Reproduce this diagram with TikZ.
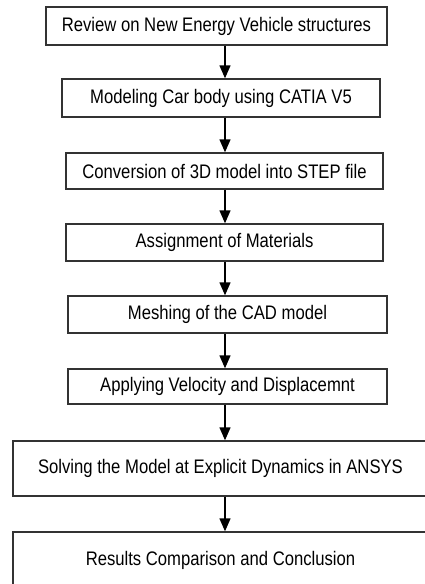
\documentclass[tikz,border=0pt]{standalone}
\usepackage{fontspec}
\setmainfont[FakeStretch=0.85]{Liberation Sans}
\usetikzlibrary{arrows.meta}
\begin{document}
\begin{tikzpicture}[x=1pt, y=-1pt,
    stepbox/.style = {draw=black!80, line width=1.4pt, inner sep=0pt,
                      font=\fontsize{19.6}{22}\selectfont},
    flow/.style = {line width=1.4pt, -{Triangle[width=11pt,length=13pt]}}]
        \def\axisX{225}

        % Page frame (boxes at the bottom run off the page)
        \useasboundingbox (0,0) rectangle (425,584);
        \clip (0,0) rectangle (425,584);
        \coordinate (axis) at (\axisX, 0);

        % Drawing the process steps
        \foreach \i/\cx/\cy/\w/\h/\txt in {
            1/216.5/26/341/38/Review on New Energy Vehicle structures,
            2/221/98/318/38/Modeling Car body using CATIA V5,
            3/224.5/171/317/36/Conversion of 3D model into STEP file,
            4/224.5/242.5/317/37/Assignment of Materials,
            5/227.5/314.5/319/37/Meshing of the CAD model,
            6/227.5/386.5/319/35/Applying Velocity and Displacemnt,
            7/220.5/468.5/415/55/Solving the Model at Explicit Dynamics in ANSYS,
            8/220.5/560/415/56/Results Comparison and Conclusion}{
            \node[stepbox, minimum width=\w pt, minimum height=\h pt] (step-\i) at (\cx, \cy) {\txt};
          }

        % Connections between consecutive steps
        \foreach \i [evaluate=\i as \j using int(\i+1)] in {1,...,7}{
            \draw[flow] (step-\i.south -| axis) -- (step-\j.north -| axis);
          }
      \end{tikzpicture}
\end{document}
